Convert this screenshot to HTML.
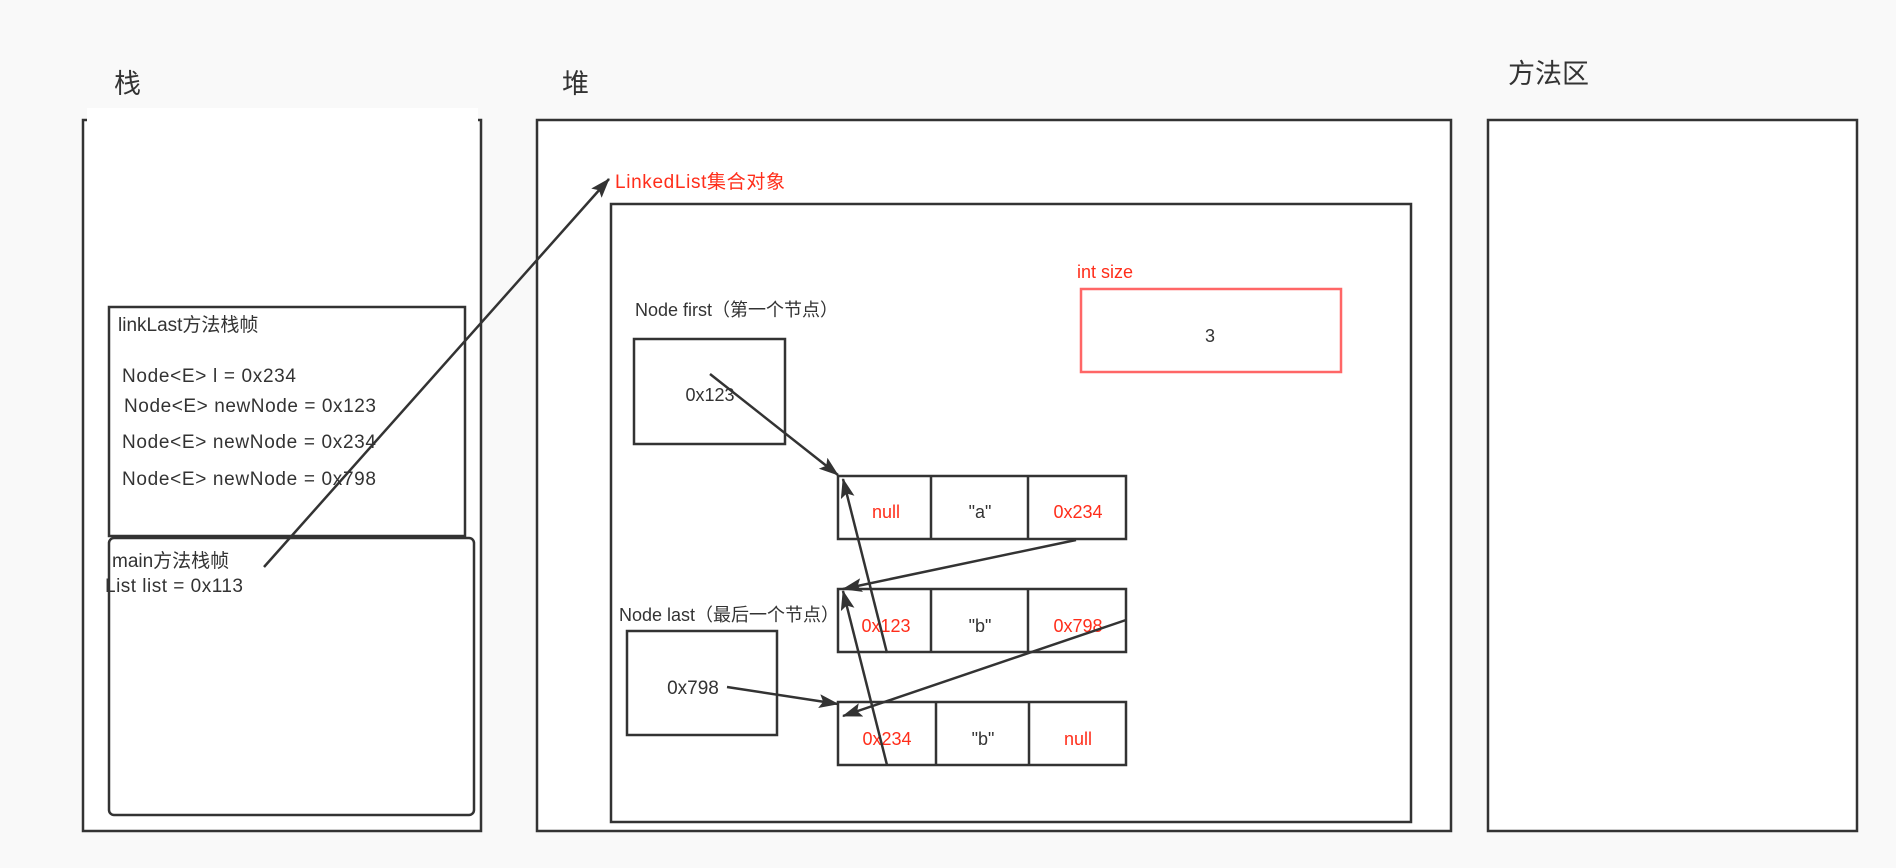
<!DOCTYPE html>
<html><head><meta charset="utf-8"><style>
html,body{margin:0;padding:0;background:#f9f9f9;}
svg{display:block;}
text{font-family:"Liberation Sans","Noto Sans CJK SC",sans-serif;fill:#333;}
.r{fill:#ff2d1a;}
</style></head><body>
<svg width="1896" height="868" viewBox="0 0 1896 868" xmlns="http://www.w3.org/2000/svg">
<defs>
<marker id="b" viewBox="0 0 20 14" refX="19" refY="7" markerWidth="20" markerHeight="14" orient="auto" markerUnits="userSpaceOnUse">
<path d="M0,0 L20,7 L0,14 L4,7 z" fill="#333"/></marker>
</defs>
<g fill="#fff" stroke="#333" stroke-width="2.5">
<rect x="83" y="120" width="398" height="711"/>
<rect x="537" y="120" width="914" height="711"/>
<rect x="1488" y="120" width="369" height="711"/>
<rect x="611" y="204" width="800" height="618"/>
<rect x="109" y="307" width="356" height="229"/>
<rect x="109" y="538" width="365" height="277" rx="5"/>
<rect x="634" y="339" width="151" height="105"/>
<rect x="627" y="631" width="150" height="104"/>
<rect x="838" y="476" width="288" height="63"/>
<rect x="838" y="589" width="288" height="63"/>
<rect x="838" y="702" width="288" height="63"/>
</g>
<rect x="87" y="108" width="391" height="16" fill="#fff"/>
<rect x="1081" y="289" width="260" height="83" fill="#fff" stroke="#ff6666" stroke-width="2.5"/>
<g stroke="#333" stroke-width="2.5">
<line x1="931" y1="476" x2="931" y2="539"/><line x1="1028" y1="476" x2="1028" y2="539"/>
<line x1="931" y1="589" x2="931" y2="652"/><line x1="1028" y1="589" x2="1028" y2="652"/>
<line x1="936" y1="702" x2="936" y2="765"/><line x1="1029" y1="702" x2="1029" y2="765"/>
</g>
<text x="114" y="93" font-size="27">栈</text>
<text x="562" y="93" font-size="27">堆</text>
<text x="1508" y="83" font-size="27">方法区</text>
<text x="118" y="331" font-size="19">linkLast方法栈帧</text>
<text x="122" y="382" font-size="19" textLength="174">Node&lt;E&gt; l = 0x234</text>
<text x="124" y="412" font-size="19" textLength="252">Node&lt;E&gt; newNode = 0x123</text>
<text x="122" y="448" font-size="19" textLength="254">Node&lt;E&gt; newNode = 0x234</text>
<text x="122" y="485" font-size="19" textLength="254">Node&lt;E&gt; newNode = 0x798</text>
<text x="112" y="567" font-size="19">main方法栈帧</text>
<text x="105" y="592" font-size="19" textLength="138">List list = 0x113</text>
<text x="615" y="188" font-size="19" class="r" textLength="170">LinkedList集合对象</text>
<text x="635" y="316" font-size="18">Node first（第一个节点）</text>
<text x="619" y="621" font-size="18">Node last（最后一个节点）</text>
<text x="1077" y="278" font-size="18" class="r">int size</text>
<text x="1210" y="342" font-size="18" text-anchor="middle">3</text>
<text x="710" y="401" font-size="18" text-anchor="middle">0x123</text>
<text x="693" y="694" font-size="19" text-anchor="middle">0x798</text>
<g font-size="18" text-anchor="middle">
<text x="886" y="518" class="r">null</text><text x="980" y="518">"a"</text><text x="1078" y="518" class="r">0x234</text>
<text x="886" y="632" class="r">0x123</text><text x="980" y="632">"b"</text><text x="1078" y="632" class="r">0x798</text>
<text x="887" y="745" class="r">0x234</text><text x="983" y="745">"b"</text><text x="1078" y="745" class="r">null</text>
</g>
<g stroke="#333" stroke-width="2.5" fill="none">
<line x1="264" y1="567" x2="609" y2="179" marker-end="url(#b)"/>
<line x1="710" y1="374" x2="838" y2="475" marker-end="url(#b)"/>
<line x1="1076" y1="540" x2="843" y2="589" marker-end="url(#b)"/>
<line x1="1126" y1="620" x2="843" y2="716" marker-end="url(#b)"/>
<line x1="887" y1="653" x2="843" y2="479" marker-end="url(#b)"/>
<line x1="887" y1="765" x2="843" y2="591" marker-end="url(#b)"/>
<line x1="727" y1="687" x2="838" y2="704" marker-end="url(#b)"/>
</g>
</svg>
</body></html>
